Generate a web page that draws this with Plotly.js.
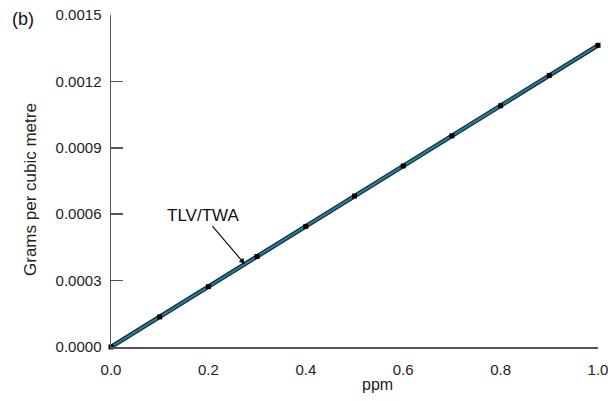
<!DOCTYPE html>
<html>
<head>
<meta charset="utf-8">
<script src="https://cdn.plot.ly/plotly-3.0.1.min.js"></script>
<style>html,body{margin:0;padding:0;background:#fff;}#chart{width:608px;height:401px;}</style>
</head>
<body>
<div id="chart"></div>
<script>
const ppm = [0.0, 0.1, 0.2, 0.3, 0.4, 0.5, 0.6, 0.7, 0.8, 0.9, 1.0];
const gramsPerM3 = [0.0, 0.000136, 0.000273, 0.000409, 0.000545, 0.000682, 0.000818, 0.000954, 0.00109, 0.001227, 0.001363];
const xTicks = [0.0, 0.2, 0.4, 0.6, 0.8, 1.0];
const xTickText = ["0.0", "0.2", "0.4", "0.6", "0.8", "1.0"];
const yTicks = [0.0, 0.0003, 0.0006, 0.0009, 0.0012, 0.0015];
const yTickText = ["0.0000", "0.0003", "0.0006", "0.0009", "0.0012", "0.0015"];
const xTitle = "ppm";
const yTitle = "Grams per cubic metre";
const panelLabel = "(b)";
const annotationLabel = "TLV/TWA";
const annotationX = 0.275;
const annotationY = 0.000374;

const font = "Liberation Sans, Arial, sans-serif";
const W = 487, H = 332, L = 111, T = 15;
const px = v => (v - L) / W;
const py = v => 1 - (v - T) / H;
const traces = [
  {x: ppm, y: gramsPerM3, mode: "lines", line: {color: "#1c2a30", width: 4.5}, hoverinfo: "skip", cliponaxis: false},
  {x: ppm, y: gramsPerM3, mode: "lines", line: {color: "#1f7c9c", width: 2.2}, hoverinfo: "skip", cliponaxis: false},
  {x: ppm, y: gramsPerM3, mode: "markers", marker: {symbol: "square", size: 5, color: "#000"}, cliponaxis: false}
];
const layout = {
  width: 608, height: 401,
  margin: {l: 111, r: 10, t: 15, b: 54},
  paper_bgcolor: "#fff", plot_bgcolor: "#fff",
  showlegend: false,
  font: {family: font, size: 15, color: "#222"},
  xaxis: {
    range: [0, 1.0], tickvals: xTicks, ticktext: xTickText,
    showgrid: false, zeroline: false, showline: true, linecolor: "#555", linewidth: 1.5,
    ticks: "", tickfont: {size: 15, color: "#222"}, ticklabelstandoff: 8,
    ticklabeloverflow: "allow"
  },
  yaxis: {
    range: [0, 0.0015], tickvals: yTicks, ticktext: yTickText,
    showgrid: false, zeroline: false, showline: true, linecolor: "#555", linewidth: 1.5,
    ticks: "inside", ticklen: 12, tickcolor: "#555", tickwidth: 1.5,
    tickfont: {size: 15, color: "#222"}, ticklabelstandoff: 5,
    ticklabeloverflow: "allow"
  },
  annotations: [
    {x: annotationX, y: annotationY, xref: "x", yref: "y", text: annotationLabel,
     showarrow: true, arrowhead: 2, arrowsize: 1, arrowwidth: 1.2, arrowcolor: "#111",
     ax: -42, ay: -49, font: {size: 17, color: "#111"}},
    {xref: "paper", yref: "paper", x: px(10), y: py(19),
     xanchor: "left", yanchor: "middle", text: panelLabel, showarrow: false,
     font: {size: 18, color: "#111"}},
    {xref: "paper", yref: "paper", x: px(30), y: py(190), textangle: -90,
     xanchor: "center", yanchor: "middle", text: yTitle, showarrow: false,
     font: {size: 17, color: "#222"}},
    {xref: "paper", yref: "paper", x: px(377), y: py(384),
     xanchor: "center", yanchor: "middle", text: xTitle, showarrow: false,
     font: {size: 16, color: "#222"}}
  ]
};
Plotly.newPlot("chart", traces, layout, {staticPlot: true});
</script>
</body>
</html>
